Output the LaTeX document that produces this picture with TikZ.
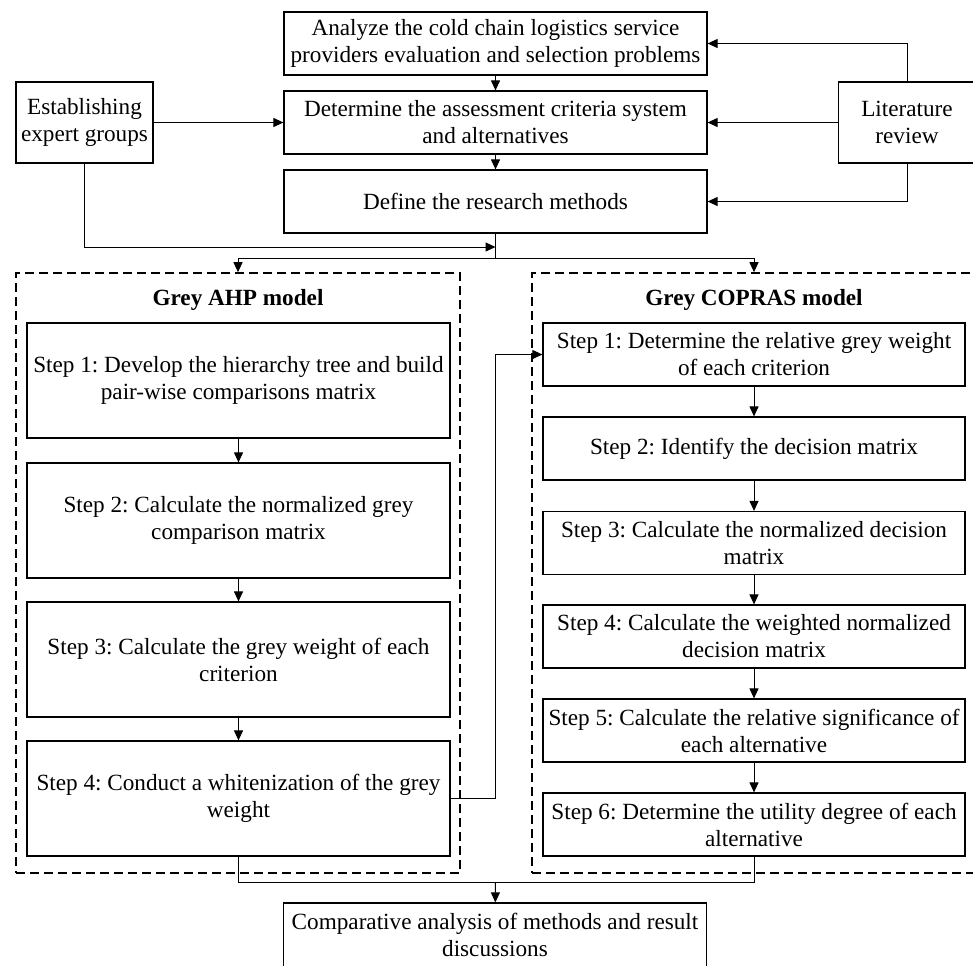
\documentclass[tikz,border=0pt]{standalone}
\usepackage{fontspec}
\setmainfont{Liberation Serif}
\usetikzlibrary{arrows.meta}
\frenchspacing
\tikzset{
  box/.style={draw, line width=0.6pt, minimum width=211.5pt, minimum height=31.5pt, inner sep=0pt, align=center},
  side/.style={draw, line width=0.6pt, minimum width=68.5pt, minimum height=40.5pt, inner sep=0pt, align=center},
  lstep/.style={draw, line width=0.6pt, minimum width=211.5pt, minimum height=57.5pt, inner sep=0pt, align=center},
  rstep/.style={draw, line width=0.6pt, minimum width=211pt, minimum height=31.5pt, inner sep=0pt, align=center},
  group/.style={draw, line width=0.8pt, dash pattern=on 4.5pt off 2.5pt, minimum width=222pt, minimum height=300pt, inner sep=0pt},
  arr/.style={-{Triangle[length=5pt,width=4.5pt]}, line width=0.5pt},
  link/.style={line width=0.5pt}
}

\begin{document}
\begin{tikzpicture}[x=0.5pt, y=-0.5pt, font=\fontsize{11.6pt}{13.5pt}\selectfont]
\useasboundingbox (0,0) rectangle (973,965);
\clip (0,0) rectangle (973,965);

% Problem, criteria and methods
\node[box] (ana) at (495.5,43.5) {Analyze the cold chain logistics service\\providers evaluation and selection problems};
\node[box] (det) at (495.5,122.5) {Determine the assessment criteria system\\and alternatives};
\node[box] (def) at (495.5,201.5) {Define the research methods};

% Inputs on both sides
\node[side] (est) at (84.5,122.5) {Establishing\\expert groups};
\node[side] (lit) at (907,122.5) {Literature\\review};

% The two model groups
\node[group] (ahp) at (238,573) {};
\node[group] (cop) at (754,573) {};
\node[font=\fontsize{11.6pt}{13.5pt}\selectfont\bfseries] (tahp) at (238,300) {Grey AHP model};
\node[font=\fontsize{11.6pt}{13.5pt}\selectfont\bfseries] (tcop) at (754,300) {Grey COPRAS model};

% Grey AHP steps
\node[lstep] (l1) at (238.5,380.5) {Step 1: Develop the hierarchy tree and build\\pair-wise comparisons matrix};
\node[lstep] (l2) at (238.5,520.5) {Step 2: Calculate the normalized grey\\comparison matrix};
\node[lstep] (l3) at (238.5,659.5) {Step 3: Calculate the grey weight of each\\criterion};
\node[lstep] (l4) at (238.5,798.5) {Step 4: Conduct a whitenization of the grey\\weight};

% Grey COPRAS steps
\node[rstep] (r1) at (754,354.5) {Step 1: Determine the relative grey weight\\of each criterion};
\node[rstep] (r2) at (754,448.5) {Step 2: Identify the decision matrix};
\node[rstep] (r3) at (754,543) {Step 3: Calculate the normalized decision\\matrix};
\node[rstep] (r4) at (754,636.5) {Step 4: Calculate the weighted normalized\\decision matrix};
\node[rstep] (r5) at (754,730.5) {Step 5: Calculate the relative significance of\\each alternative};
\node[rstep] (r6) at (754,824.5) {Step 6: Determine the utility degree of each\\alternative};

% Result
\node[box, minimum height=32pt] (cmp) at (495,935) {Comparative analysis of methods and result\\discussions};

% Junctions
\coordinate (j1) at (495.5,247);
\coordinate (j2) at (495.5,258);
\coordinate (j4) at (495.5,882);

% Top part
\draw[arr] (ana) -- (det);
\draw[arr] (det) -- (def);
\draw[arr] (est) -- (det);
\draw[arr] (lit.north) |- (ana.east);
\draw[arr] (lit) -- (det);
\draw[arr] (lit.south) |- (def.east);
\draw[arr] (est.south) |- (j1);
\draw[link] (def.south) -- (j2);
\draw[arr] (j2) -| (ahp.north);
\draw[arr] (j2) -| (cop.north);

% Steps
\draw[arr] (l1) -- (l2);
\draw[arr] (l2) -- (l3);
\draw[arr] (l3) -- (l4);
\draw[arr] (r1) -- (r2);
\draw[arr] (r2) -- (r3);
\draw[arr] (r3) -- (r4);
\draw[arr] (r4) -- (r5);
\draw[arr] (r5) -- (r6);
\draw[arr] (l4.east) -- ++(45,0) |- (r1.west);

% Bottom
\draw[link] (l4.south) |- (j4) -| (r6.south);
\draw[arr] (j4) -- (cmp);
\end{tikzpicture}
\end{document}
